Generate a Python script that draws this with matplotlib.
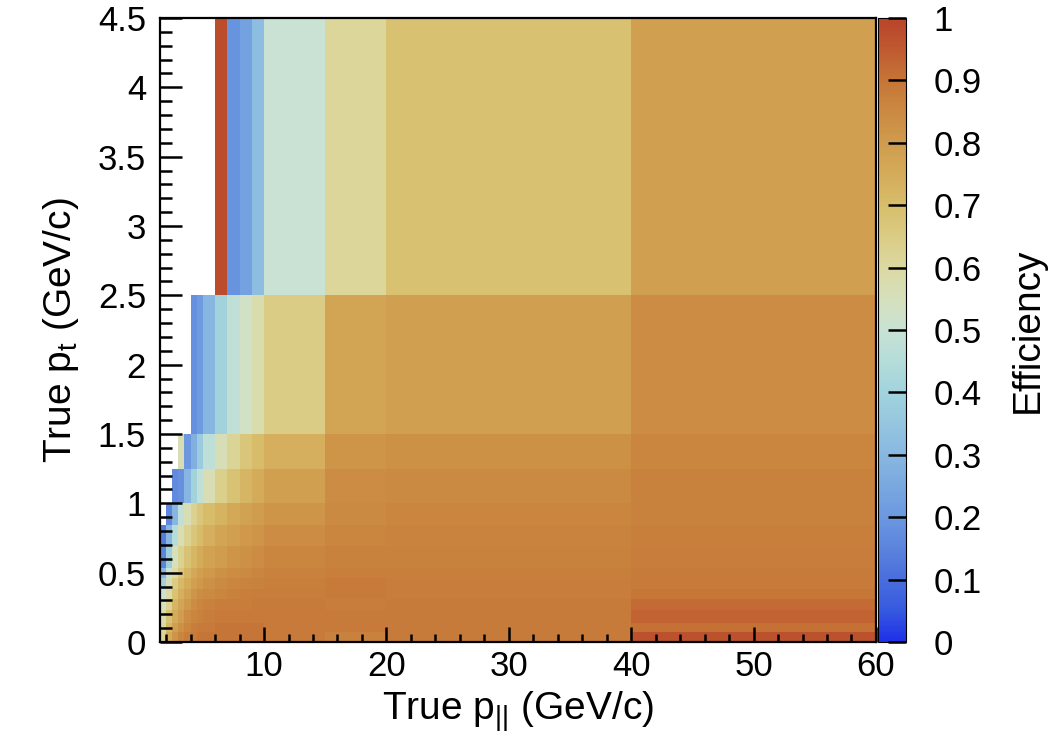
import numpy as np
import matplotlib
matplotlib.use("Agg")
import matplotlib.pyplot as plt
from matplotlib.colors import LinearSegmentedColormap
from matplotlib.ticker import MultipleLocator, FormatStrFormatter

plt.rcParams['font.family'] = ['Liberation Sans', 'DejaVu Sans']
plt.rcParams['mathtext.fontset'] = 'custom'
plt.rcParams['mathtext.rm'] = 'Liberation Sans'
plt.rcParams['mathtext.it'] = 'Liberation Sans'

# Bin edges of the efficiency histogram
pl_edges = [1.5, 2, 2.5, 3, 3.5, 4, 4.5, 5, 6, 7, 8, 9, 10, 15, 20, 40, 60]
pt_edges = [0, 0.07, 0.14, 0.23, 0.31, 0.385, 0.46, 0.535, 0.69, 0.845,
            1.0, 1.25, 1.5, 2.5, 4.5]

nan = np.nan
# Efficiency per pt bin (bottom to top), one value per p_parallel bin
eff_r0 = [0.62, 0.75, 0.82, 0.86, 0.88, 0.89, 0.90, 0.90, 0.90, 0.90, 0.90, 0.90, 0.89, 0.87, 0.885, 0.97]
eff_r1 = [0.60, 0.72, 0.79, 0.83, 0.86, 0.88, 0.89, 0.89, 0.90, 0.90, 0.90, 0.90, 0.89, 0.89, 0.885, 0.91]
eff_r2 = [0.58, 0.68, 0.75, 0.80, 0.84, 0.86, 0.87, 0.88, 0.89, 0.89, 0.89, 0.89, 0.89, 0.885, 0.885, 0.93]
eff_r3 = [0.55, 0.63, 0.72, 0.77, 0.81, 0.84, 0.86, 0.87, 0.88, 0.88, 0.88, 0.885, 0.885, 0.88, 0.885, 0.92]
eff_r4 = [0.50, 0.60, 0.68, 0.74, 0.78, 0.82, 0.84, 0.85, 0.86, 0.87, 0.875, 0.88, 0.88, 0.885, 0.88, 0.895]
eff_r5 = [0.40, 0.56, 0.65, 0.71, 0.75, 0.79, 0.81, 0.83, 0.85, 0.86, 0.865, 0.87, 0.875, 0.89, 0.88, 0.885]
eff_r6 = [0.30, 0.50, 0.60, 0.67, 0.72, 0.76, 0.79, 0.81, 0.83, 0.84, 0.85, 0.86, 0.87, 0.875, 0.875, 0.885]
eff_r7 = [0.15, 0.38, 0.55, 0.63, 0.68, 0.72, 0.75, 0.78, 0.80, 0.82, 0.83, 0.84, 0.86, 0.87, 0.87, 0.88]
eff_r8 = [0.13, 0.30, 0.45, 0.57, 0.63, 0.67, 0.70, 0.74, 0.77, 0.79, 0.81, 0.82, 0.84, 0.86, 0.865, 0.875]
eff_r9 = [nan, 0.16, 0.30, 0.48, 0.57, 0.63, 0.67, 0.70, 0.73, 0.76, 0.78, 0.80, 0.82, 0.85, 0.86, 0.87]
eff_r10 = [nan, nan, 0.17, 0.18, 0.30, 0.40, 0.48, 0.57, 0.64, 0.68, 0.72, 0.75, 0.79, 0.84, 0.85, 0.87]
eff_r11 = [nan, nan, nan, 0.57, 0.20, 0.27, 0.37, 0.47, 0.56, 0.62, 0.67, 0.70, 0.74, 0.82, 0.83, 0.86]
eff_r12 = [nan, nan, nan, nan, nan, 0.18, 0.21, 0.30, 0.40, 0.48, 0.53, 0.58, 0.65, 0.77, 0.79, 0.84]
eff_r13 = [nan, nan, nan, nan, nan, nan, nan, nan, 0.98, 0.19, 0.23, 0.32, 0.50, 0.61, 0.69, 0.79]

eff = np.array([eff_r0, eff_r1, eff_r2, eff_r3, eff_r4, eff_r5, eff_r6,
                eff_r7, eff_r8, eff_r9, eff_r10, eff_r11, eff_r12, eff_r13])

cbar_ticks = [0, 0.1, 0.2, 0.3, 0.4, 0.5, 0.6, 0.7, 0.8, 0.9, 1.0]

# Blue -> pale -> orange -> red palette
palette = [
    (0.00, '#2030E8'), (0.05, '#365ADF'), (0.10, '#4A6EDD'), (0.15, '#5C84DD'),
    (0.20, '#6C98E0'), (0.25, '#7AA8E0'), (0.30, '#88B8E0'), (0.35, '#95C6DF'),
    (0.40, '#A2D3DD'), (0.45, '#B5DDDA'), (0.50, '#C8E2D4'), (0.55, '#D5E0BD'),
    (0.60, '#DCD9A2'), (0.65, '#DACC85'), (0.70, '#D7BE6B'), (0.75, '#D4AC5A'),
    (0.80, '#D09C4E'), (0.85, '#CB8A42'), (0.90, '#C67638'), (0.95, '#BF5A30'),
    (1.00, '#B8452A'),
]
cmap = LinearSegmentedColormap.from_list('eff', palette, N=256)

fig = plt.figure(figsize=(10.61, 7.42), dpi=100)
ax = fig.add_axes([0.1508, 0.1348, 0.6748, 0.8409])
cax = fig.add_axes([0.8275, 0.1348, 0.0264, 0.8409])

masked = np.ma.masked_invalid(eff)
mesh = ax.pcolormesh(pl_edges, pt_edges, masked, cmap=cmap, vmin=0, vmax=1,
                     shading='flat', edgecolors='none', antialiased=False)

ax.set_xlim(1.5, 60)
ax.set_ylim(0, 4.5)

ax.xaxis.set_major_locator(MultipleLocator(10))
ax.xaxis.set_minor_locator(MultipleLocator(2))
ax.yaxis.set_major_locator(MultipleLocator(0.5))
ax.yaxis.set_minor_locator(MultipleLocator(0.1))
ax.yaxis.set_major_formatter(FormatStrFormatter('%g'))

ax.tick_params(axis='both', which='both', direction='in', width=1.8,
               top=False, right=False, labelsize=25, colors='black')
ax.tick_params(axis='x', which='major', length=11, pad=6)
ax.tick_params(axis='x', which='minor', length=5.5)
ax.tick_params(axis='y', which='major', length=16, pad=10)
ax.tick_params(axis='y', which='minor', length=8.5)
for sp in ax.spines.values():
    sp.set_linewidth(1.6)

ax.set_xlabel(r'True p$_{||}$ (GeV/c)', fontsize=28, labelpad=4)
ax.set_ylabel(r'True p$_{\mathrm{t}}$ (GeV/c)', fontsize=28, labelpad=12)

cb = fig.colorbar(mesh, cax=cax, ticks=cbar_ticks)
cb.outline.set_linewidth(0.8)
cb.ax.yaxis.set_major_formatter(FormatStrFormatter('%g'))
cb.ax.tick_params(direction='in', length=13, width=1.8, labelsize=25, pad=20)
cb.ax.minorticks_off()
cb.set_label('Efficiency', fontsize=28, labelpad=20)

fig.savefig('out.png', dpi=100)
